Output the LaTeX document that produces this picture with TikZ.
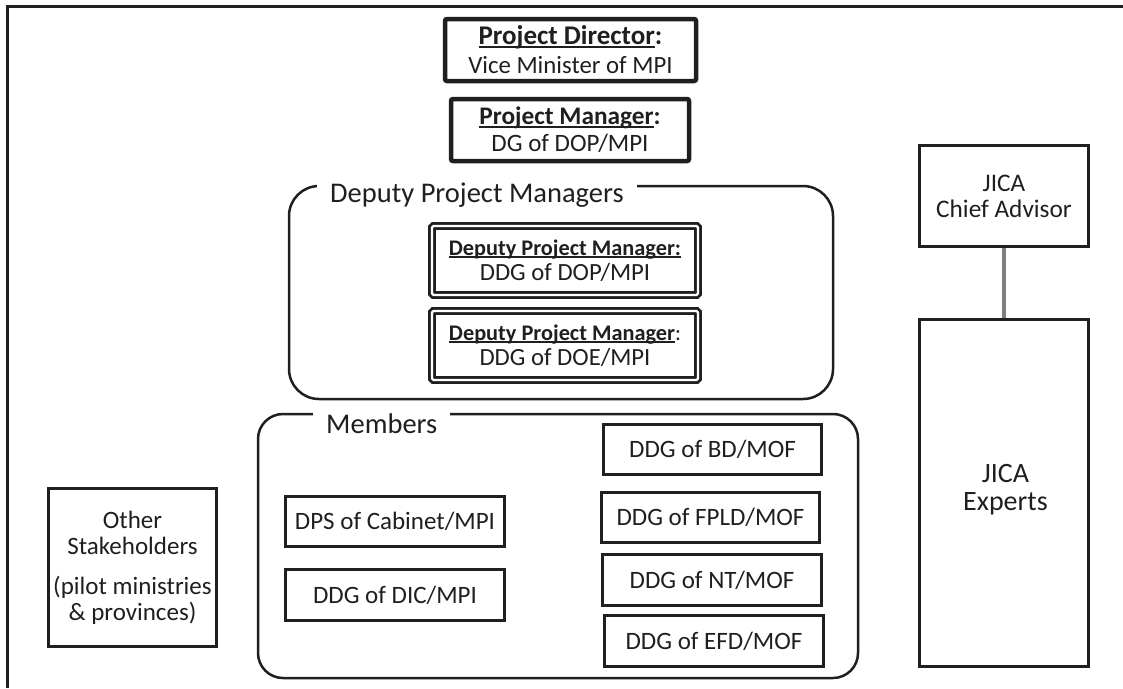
\documentclass[tikz,border=0pt]{standalone}
\usepackage{fontspec}
\setmainfont{Carlito}
\newcommand\ulx[1]{\setbox0=\hbox{#1}\leavevmode\rlap{\rule[-0.11em]{\wd0}{0.065em}}\box0}
\begin{document}
\begin{tikzpicture}[x=1pt,y=-1pt,
  ink/.style={black!88},
  box/.style={draw=black!88, line width=3pt, align=center, inner sep=0pt, text=black!88,
    font=\fontsize{25}{30}\selectfont},
  headbox/.style={box, line width=4.5pt, rounded corners=2pt},
  dblbox/.style={box, line width=2.7pt, double=white, double distance=2.4pt, rounded corners=1.5pt},
  grp/.style={draw=black!88, line width=2.5pt, inner sep=0pt},
  lbl/.style={fill=white, inner xsep=13pt, inner ysep=3pt, text=black!88,
    font=\fontsize{28.5}{32}\selectfont},
  conn/.style={draw=black!50, line width=3.5pt}]
\useasboundingbox (0,0) rectangle (1123,688);
% outer frame
\draw[ink, line width=3pt] (7,688) -- (7,6.5) -- (1123,6.5);
% top boxes
\node[headbox, minimum width=251pt, minimum height=62pt] (pd) at (570.5,50)
  {{\fontsize{27}{30}\selectfont\bfseries\ulx{Project Director}:}\\[-1pt]{\fontsize{24.8}{30}\selectfont Vice Minister of MPI}};
\node[headbox, minimum width=238pt, minimum height=62pt] (pm) at (570,130)
  {{\fontsize{25.3}{27}\selectfont\bfseries\ulx{Project Manager}:}\\[-3pt]{\fontsize{25}{27}\selectfont DG of DOP/MPI}};
% deputy group
\node[grp, rounded corners=30pt, minimum width=544pt, minimum height=213pt] (dpmg) at (561,292.5) {};
\node[lbl, anchor=base west] (dpmlbl) at (317,202) {Deputy Project Managers};
\node[dblbox, minimum width=266pt, minimum height=69pt] (dpm1) at (565,260.5)
  {{\fontsize{22.3}{24}\selectfont\bfseries\ulx{Deputy Project Manager:}}\\[-5pt]{\fontsize{24.7}{24}\selectfont DDG of DOP/MPI}};
\node[dblbox, minimum width=266pt, minimum height=69pt] (dpm2) at (565,345.5)
  {{\fontsize{22.3}{24}\selectfont\bfseries\ulx{Deputy Project Manager}{\mdseries:}}\\[-5pt]{\fontsize{24.7}{24}\selectfont DDG of DOE/MPI}};
% members group
\node[grp, rounded corners=25pt, minimum width=600pt, minimum height=264pt] (memg) at (558,546) {};
\node[lbl, anchor=base west] (memlbl) at (313,433) {Members};
\node[box, minimum width=218pt, minimum height=50pt] (bd) at (712.5,449.5) {DDG of BD/MOF};
\node[box, minimum width=218pt, minimum height=50pt] (fpld) at (710.5,517.5) {DDG of FPLD/MOF};
\node[box, minimum width=219pt, minimum height=51pt] (nt) at (712,580) {DDG of NT/MOF};
\node[box, minimum width=219pt, minimum height=51pt] (efd) at (714,641) {DDG of EFD/MOF};
\node[box, minimum width=219pt, minimum height=50pt] (dps) at (395,521.5) {DPS of Cabinet/MPI};
\node[box, minimum width=219pt, minimum height=51pt] (dic) at (395,595) {DDG of DIC/MPI};
% other stakeholders
\node[box, minimum width=168pt, minimum height=158pt, font=\fontsize{25}{26}\selectfont] (oth) at (132.5,567.5)
  {Other\\Stakeholders\\[14pt](pilot ministries\\\& provinces)};
% JICA
\node[box, minimum width=169pt, minimum height=101pt, font=\fontsize{25.3}{26}\selectfont] (ca) at (1004,196)
  {JICA\\Chief Advisor};
\node[box, minimum width=169pt, minimum height=347pt] (exp) at (1004,493) {};
\node[align=center, inner sep=0pt, text=black!88, font=\fontsize{28}{28.5}\selectfont] (exptxt) at (1005.5,489.5) {JICA\\Experts};
\draw[conn] (ca.south) -- (exp.north);
\end{tikzpicture}
\end{document}
